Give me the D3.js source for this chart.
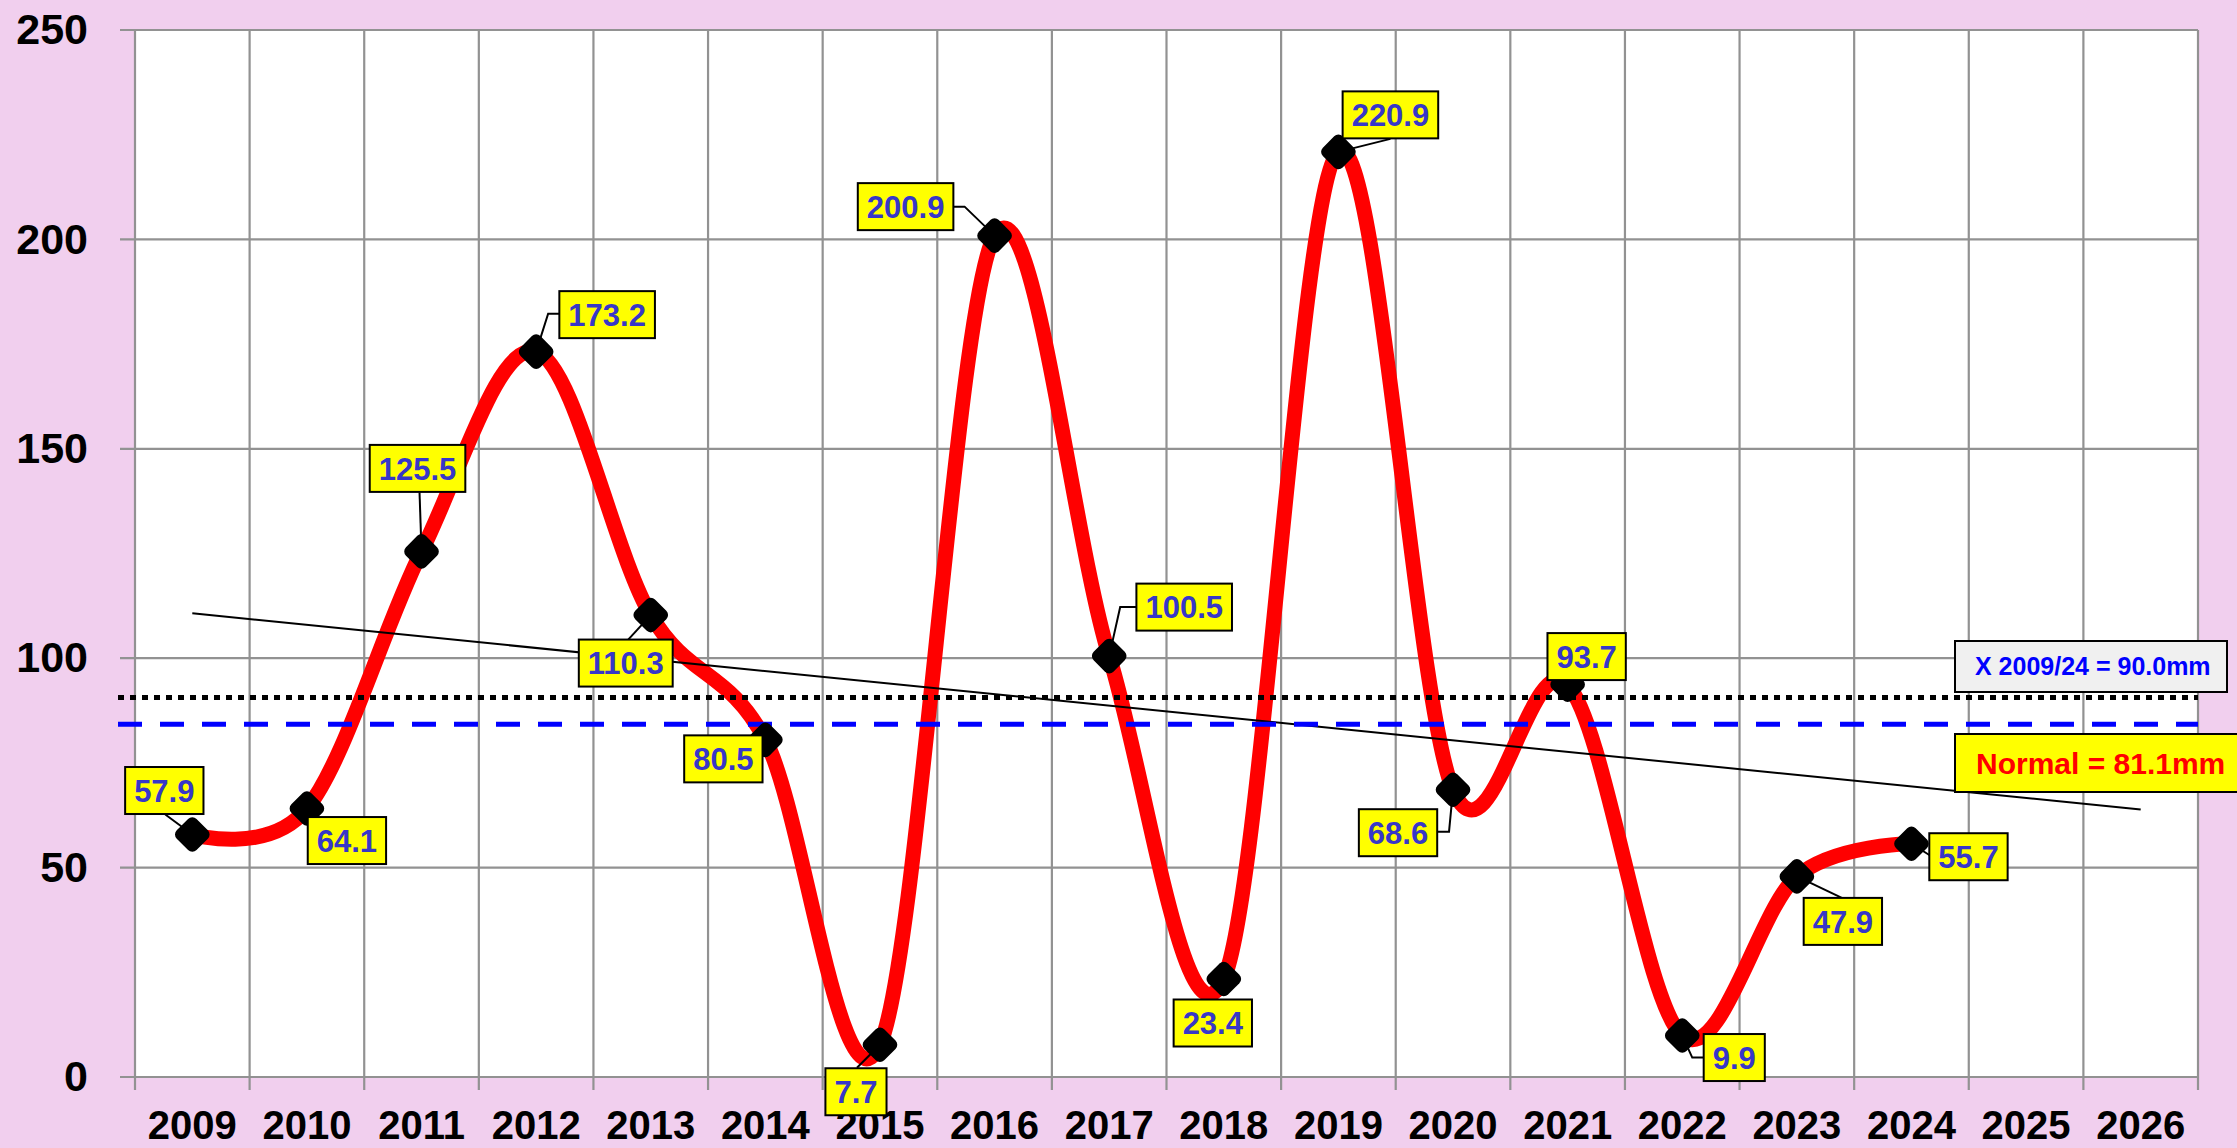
<!DOCTYPE html>
<html>
<head>
<meta charset="utf-8">
<script src="https://cdn.jsdelivr.net/npm/d3@7"></script>
<style>
    body { margin: 0; background: #f1cfee; }
    text { font-family: "Liberation Sans", Arial, sans-serif; font-weight: bold; }
</style>
</head>
<body>
<div id="chart"></div>
<script>
// Chart data
var years = ["2009", "2010", "2011", "2012", "2013", "2014", "2015", "2016", "2017",
    "2018", "2019", "2020", "2021", "2022", "2023", "2024", "2025", "2026"];
var rainfall = [57.9, 64.1, 125.5, 173.2, 110.3, 80.5, 7.7, 200.9, 100.5,
    23.4, 220.9, 68.6, 93.7, 9.9, 47.9, 55.7];
var yTicks = [0, 50, 100, 150, 200, 250];

// reference lines (levels as drawn in the picture)
var meanLevel = 90.6;
var normalLevel = 84.2;
var meanText = "X 2009/24 = 90.0mm";
var normalText = "Normal = 81.1mm";

// where each value label sits, relative to its marker
var labelOffsets = [[-28, -44], [40, 32], [-4, -83], [71, -37], [-25, 48], [-42, 19],
    [-24, 47], [-89, -29], [75, -49], [-11, 44], [52, -37], [-55, 43],
    [19, -28], [52, 22], [46, 45], [57, 13]];
var leaderPaths = [
    [[0, 0], [-27, -20]], null, [[0, 0], [-2, -59]], [[0, 0], [12, -38], [24, -38]],
    [[0, 0], [-23, 25]], null, [[0, 0], [-23, 23]], [[0, 0], [-30, -29], [-41, -29]],
    [[0, 0], [11, -49], [28, -49]], null, [[0, 0], [52, -13]], [[0, 0], [-4, 42], [-16, 42]],
    null, [[0, 0], [10, 22], [22, 22]], [[0, 0], [46, 22]], [[0, 0], [19, 12]]
];

var svgWidth = 2237;
var svgHeight = 1148;

var margin = { top: 30, right: 39, bottom: 71, left: 135 };
var width = svgWidth - margin.left - margin.right;
var height = svgHeight - margin.top - margin.bottom;

var svg = d3.select("#chart")
    .append("svg")
    .attr("width", svgWidth)
    .attr("height", svgHeight);

svg.append("rect")
    .attr("width", svgWidth)
    .attr("height", svgHeight)
    .attr("fill", "#f1cfee");

var chartGroup = svg.append("g")
    .attr("transform", `translate(${margin.left}, ${margin.top})`);

// Scales
var xScale = d3.scaleBand()
    .domain(years)
    .range([0, width]);

var yScale = d3.scaleLinear()
    .domain([0, 250])
    .range([height, 0]);

var xc = d => xScale(d) + xScale.bandwidth() / 2;

chartGroup.append("rect")
    .attr("width", width)
    .attr("height", height)
    .attr("fill", "white");

// Grid lines
chartGroup.append("g")
    .selectAll("line")
    .data(yTicks)
    .enter()
    .append("line")
    .attr("x1", -15)
    .attr("x2", width)
    .attr("y1", d => yScale(d))
    .attr("y2", d => yScale(d))
    .attr("stroke", "#929292")
    .attr("stroke-width", 2.2);

chartGroup.append("g")
    .selectAll("line")
    .data(years.concat(["end"]))
    .enter()
    .append("line")
    .attr("x1", (d, i) => i * xScale.bandwidth())
    .attr("x2", (d, i) => i * xScale.bandwidth())
    .attr("y1", 0)
    .attr("y2", height + 13)
    .attr("stroke", "#929292")
    .attr("stroke-width", 2.2);

// Axes (labels only, grid drawn above)
var leftAxis = d3.axisLeft(yScale).tickValues(yTicks).tickSize(0).tickPadding(47);
var bottomAxis = d3.axisBottom(xScale).tickSize(0).tickPadding(34);

var yAxisG = chartGroup.append("g").call(leftAxis);
var xAxisG = chartGroup.append("g")
    .attr("transform", `translate(0, ${height})`)
    .call(bottomAxis);

[yAxisG, xAxisG].forEach(function(g) {
    g.select(".domain").remove();
    g.selectAll("text")
        .attr("fill", "black")
        .attr("font-family", "Liberation Sans, Arial, sans-serif")
        .attr("font-weight", "bold");
});
yAxisG.selectAll("text").attr("font-size", "43px");
xAxisG.selectAll("text").attr("font-size", "40px");

// Smoothed rainfall line
var line = d3.line()
    .x((d, i) => xc(years[i]))
    .y(d => yScale(d))
    .curve(d3.curveCardinal.tension(0));

chartGroup.append("path")
    .datum(rainfall)
    .attr("d", line)
    .attr("fill", "none")
    .attr("stroke", "#ff0000")
    .attr("stroke-width", 15)
    .attr("stroke-linecap", "round");

// Linear trend, extended to 2026
var meanX = d3.mean(rainfall, (d, i) => i);
var meanY = d3.mean(rainfall);
var slope = d3.sum(rainfall, (d, i) => (i - meanX) * (d - meanY)) /
    d3.sum(rainfall, (d, i) => (i - meanX) * (i - meanX));
var intercept = meanY - slope * meanX;
var lastIdx = years.length - 1;

chartGroup.append("line")
    .attr("x1", xc(years[0]))
    .attr("y1", yScale(intercept))
    .attr("x2", xc(years[lastIdx]))
    .attr("y2", yScale(intercept + slope * lastIdx))
    .attr("stroke", "black")
    .attr("stroke-width", 2);

// Mean and normal lines
chartGroup.append("line")
    .attr("x1", -17)
    .attr("x2", width)
    .attr("y1", yScale(meanLevel))
    .attr("y2", yScale(meanLevel))
    .attr("stroke", "black")
    .attr("stroke-width", 5)
    .attr("stroke-dasharray", "6 6");

chartGroup.append("line")
    .attr("x1", -17)
    .attr("x2", width)
    .attr("y1", yScale(normalLevel))
    .attr("y2", yScale(normalLevel))
    .attr("stroke", "#0000ff")
    .attr("stroke-width", 5)
    .attr("stroke-dasharray", "24 18");

// Leader lines from markers to labels
var leaders = rainfall
    .map((d, i) => ({ x: xc(years[i]), y: yScale(d), pts: leaderPaths[i] }))
    .filter(d => d.pts != null);

chartGroup.append("g")
    .selectAll("path")
    .data(leaders)
    .enter()
    .append("path")
    .attr("d", d => "M" + d.pts.map(p => (d.x + p[0]) + "," + (d.y + p[1])).join("L"))
    .attr("fill", "none")
    .attr("stroke", "black")
    .attr("stroke-width", 2);

// Markers: rounded black diamonds
chartGroup.append("g")
    .selectAll("rect")
    .data(rainfall)
    .enter()
    .append("rect")
    .attr("x", -14)
    .attr("y", -14)
    .attr("width", 28)
    .attr("height", 28)
    .attr("rx", 6)
    .attr("fill", "black")
    .attr("transform", (d, i) => `translate(${xc(years[i])}, ${yScale(d)}) rotate(45)`);

// Value labels in yellow boxes
var labels = chartGroup.append("g")
    .selectAll("g")
    .data(rainfall)
    .enter()
    .append("g")
    .attr("transform", (d, i) => `translate(${xc(years[i]) + labelOffsets[i][0]}, ${yScale(d) + labelOffsets[i][1]})`);

labels.append("rect")
    .attr("fill", "#ffff00")
    .attr("stroke", "black")
    .attr("stroke-width", 2);

labels.append("text")
    .attr("text-anchor", "middle")
    .attr("dy", "0.36em")
    .attr("font-size", "31px")
    .attr("fill", "#3737c8")
    .text(d => d.toFixed(1));

labels.each(function() {
    var g = d3.select(this);
    var w = g.select("text").node().getComputedTextLength() + 18;
    g.select("rect")
        .attr("x", -w / 2)
        .attr("y", -23.5)
        .attr("width", w)
        .attr("height", 47);
});

// Mean and normal text boxes
svg.append("rect")
    .attr("x", 1955)
    .attr("y", 641)
    .attr("width", 272)
    .attr("height", 51)
    .attr("fill", "#f0f0f0")
    .attr("stroke", "black")
    .attr("stroke-width", 2);

svg.append("text")
    .attr("x", 1975)
    .attr("y", 675)
    .attr("font-size", "25px")
    .attr("fill", "#0000ff")
    .text(meanText);

svg.append("rect")
    .attr("x", 1955)
    .attr("y", 734)
    .attr("width", 285)
    .attr("height", 58)
    .attr("fill", "#ffff00")
    .attr("stroke", "black")
    .attr("stroke-width", 2);

svg.append("text")
    .attr("x", 1976)
    .attr("y", 774)
    .attr("font-size", "30px")
    .attr("fill", "#ff0000")
    .text(normalText);
</script>
</body>
</html>
